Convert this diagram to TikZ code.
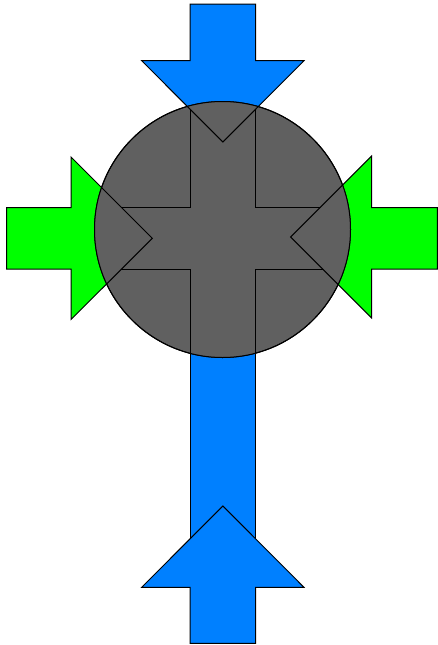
\documentclass[tikz,border=0pt]{standalone}
\definecolor{arrblue}{RGB}{0,128,255}
\definecolor{arrgreen}{RGB}{0,255,0}
\definecolor{discgray}{RGB}{96,96,96}
\tikzset{shape outline/.style={draw=black,line width=1pt,line join=miter}}
\newcommand\crossbar[1]{%
  \path[shape outline,fill=#1] (190,80) -- (255.7,80) -- (255.7,207.5) -- (335,207.5) -- (335,269) -- (255.7,269) -- (255.7,560) -- (190,560) -- (190,269) -- (110,269) -- (110,207.5) -- (190,207.5) -- cycle;}
\newcommand\toparrowshape[1]{%
  \path[shape outline,fill=#1] (190,4) -- (255.7,4) -- (255.7,60.7) -- (304,60.7) -- (222.85,142) -- (141.7,60.7) -- (190,60.7) -- cycle;}
\newcommand\leftarrowshape[1]{%
  \path[shape outline,fill=#1] (6.7,207.5) -- (71,207.5) -- (71,157) -- (152.3,238.3) -- (71,319.5) -- (71,269) -- (6.7,269) -- cycle;}
\newcommand\rightarrowshape[1]{%
  \path[shape outline,fill=#1] (437.3,207.5) -- (371.7,207.5) -- (371.7,156) -- (290.7,237) -- (371.7,318) -- (371.7,269) -- (437.3,269) -- cycle;}
\newcommand\bottomarrowshape[1]{%
  \path[shape outline,fill=#1] (190,643.3) -- (255.7,643.3) -- (255.7,587.3) -- (304,587.3) -- (222.85,506) -- (141.7,587.3) -- (190,587.3) -- cycle;}
\begin{document}
\begin{tikzpicture}[x=1pt,y=-1pt]
\useasboundingbox (0,0) rectangle (438,645);
% coloured shapes
\crossbar{arrblue}
\toparrowshape{arrblue}
\leftarrowshape{arrgreen}
\rightarrowshape{arrgreen}
\bottomarrowshape{arrblue}
% disc
\path[shape outline,fill=discgray] (222.5,229.5) circle[radius=128];
% outlines seen through the disc
\begin{scope}
\clip (222.5,229.5) circle[radius=128];
\crossbar{discgray}
\toparrowshape{discgray}
\leftarrowshape{discgray}
\rightarrowshape{discgray}
\bottomarrowshape{discgray}
\end{scope}
\draw[shape outline] (222.5,229.5) circle[radius=128];
\end{tikzpicture}
\end{document}
